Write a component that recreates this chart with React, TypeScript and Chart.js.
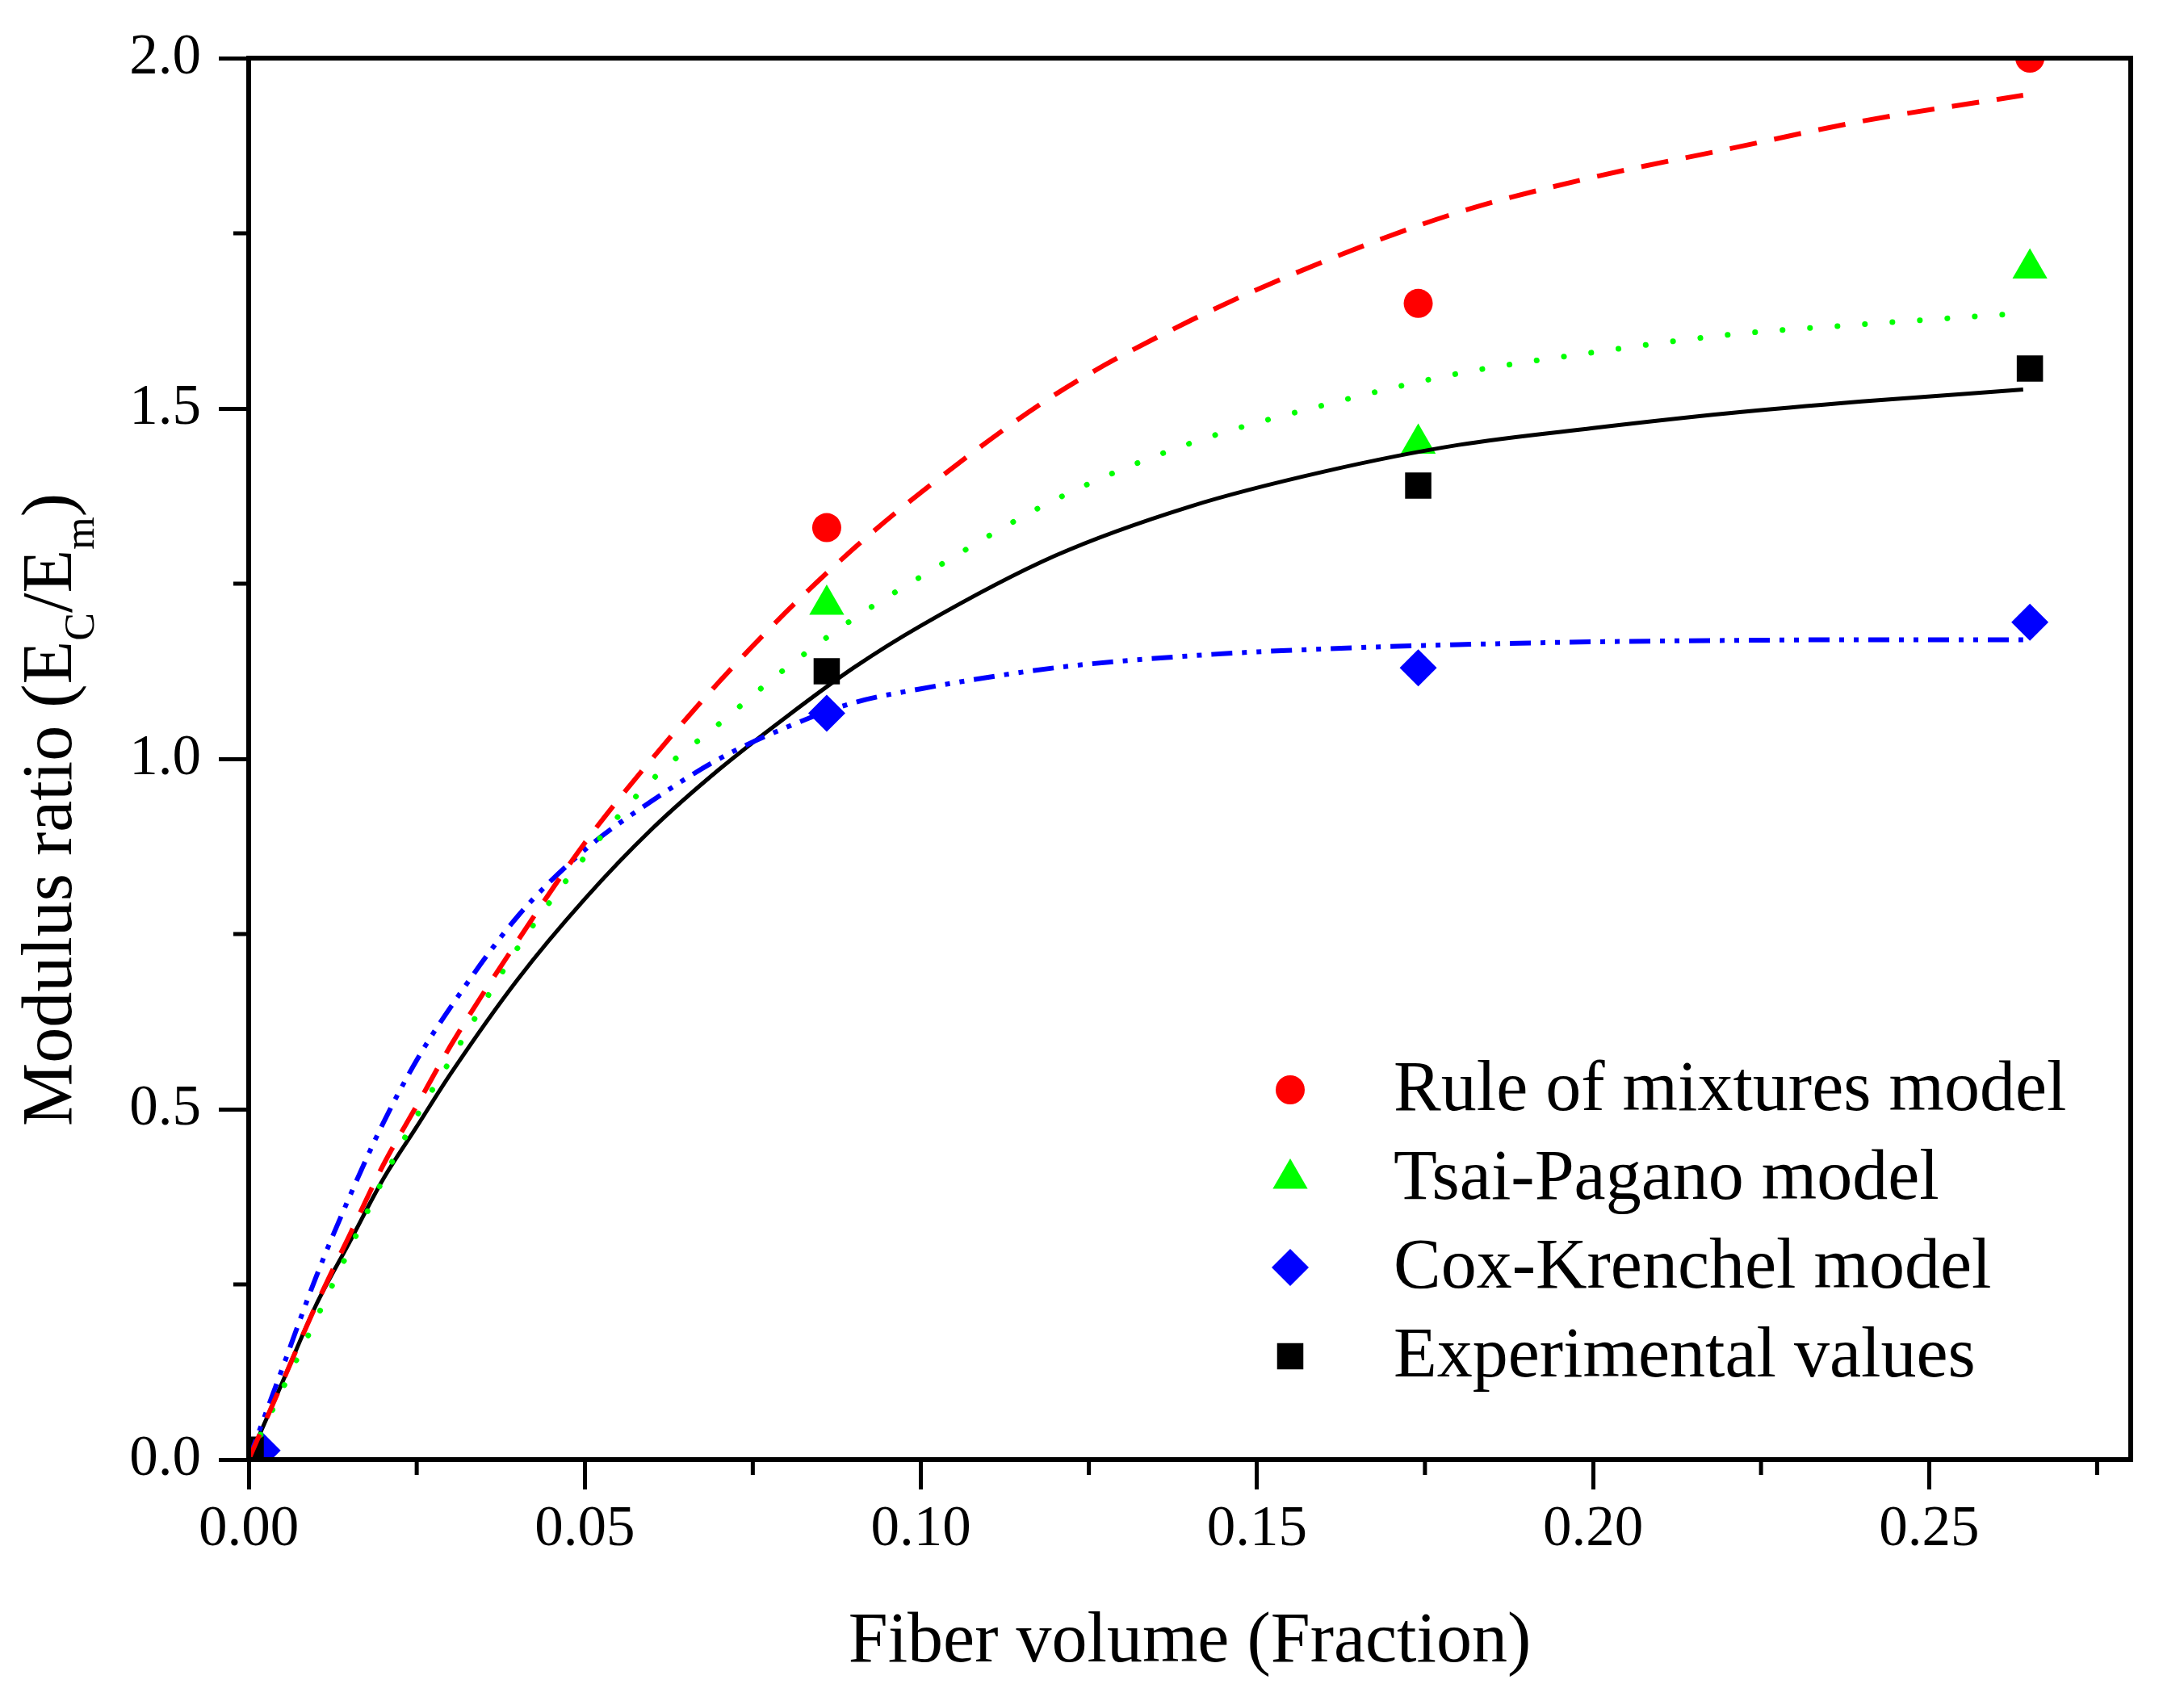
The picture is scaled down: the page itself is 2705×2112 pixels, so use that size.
import { useEffect, useRef } from "react"
import { Chart, registerables } from "chart.js"
import type { Plugin } from "chart.js"
import { drawPoint } from "chart.js/helpers"

Chart.register(...registerables)

// measured points (fiber volume fraction)
const sampleFraction = [0.086, 0.174, 0.265]
const coxFraction = [0.002, 0.086, 0.174, 0.265]
const experimentalFraction = [0.0003, 0.086, 0.174, 0.265]

const ruleOfMixtures = [1.33, 1.65, 2.0]
const tsaiPagano = [1.22, 1.45, 1.7]
const coxKrenchel = [0.013, 1.065, 1.13, 1.195]
const experimental = [0.014, 1.125, 1.39, 1.557]

// fitted curves
const fitFraction = [
  0, 0.005, 0.01, 0.015, 0.02, 0.025, 0.03, 0.04, 0.05, 0.06, 0.07, 0.08, 0.09, 0.1, 0.12, 0.14,
  0.16, 0.18, 0.2, 0.22, 0.24, 0.264,
]
const ruleFit = [
  0, 0.11, 0.22, 0.32, 0.42, 0.505, 0.59, 0.74, 0.88, 1.0, 1.11, 1.21, 1.3, 1.38, 1.52, 1.625,
  1.71, 1.78, 1.83, 1.87, 1.91, 1.947,
]
const tsaiFit = [
  0, 0.1, 0.2, 0.3, 0.4, 0.49, 0.57, 0.73, 0.86, 0.97, 1.05, 1.13, 1.2, 1.26, 1.37, 1.45, 1.505,
  1.55, 1.58, 1.605, 1.62, 1.636,
]
const coxFit = [
  0, 0.13, 0.26, 0.375, 0.48, 0.57, 0.645, 0.775, 0.87, 0.94, 1.0, 1.045, 1.08, 1.1, 1.13, 1.147,
  1.157, 1.163, 1.167, 1.169, 1.17, 1.17,
]
const experimentalFit = [
  0, 0.11, 0.22, 0.31, 0.4, 0.475, 0.55, 0.685, 0.8, 0.9, 0.985, 1.06, 1.13, 1.19, 1.29, 1.36,
  1.41, 1.448, 1.472, 1.493, 1.51, 1.527,
]

const seriesLabels = [
  "Rule of mixtures model",
  "Tsai-Pagano model",
  "Cox-Krenchel model",
  "Experimental values",
]

const xMinorTicks = [0.025, 0.075, 0.125, 0.175, 0.225, 0.275]
const yMinorTicks = [0.25, 0.75, 1.25, 1.75]

const FONT = "'Liberation Serif', 'Times New Roman', serif"

const toPoints = (xs: number[], ys: number[]) => ys.map((y, i) => ({ x: xs[i], y }))

// plot frame + short minor ticks
const framePlugin: Plugin = {
  id: "frame",
  afterDraw(chart) {
    const { ctx, chartArea } = chart
    const xs = chart.scales.x
    const ys = chart.scales.y
    ctx.save()
    ctx.strokeStyle = "#000"
    ctx.lineWidth = 5
    ctx.beginPath()
    xMinorTicks.forEach((v) => {
      const px = xs.getPixelForValue(v)
      ctx.moveTo(px, chartArea.bottom)
      ctx.lineTo(px, chartArea.bottom + 19)
    })
    yMinorTicks.forEach((v) => {
      const py = ys.getPixelForValue(v)
      ctx.moveTo(chartArea.left, py)
      ctx.lineTo(chartArea.left - 19, py)
    })
    ctx.stroke()
    ctx.lineWidth = 6
    ctx.strokeRect(
      chartArea.left,
      chartArea.top,
      chartArea.right - chartArea.left,
      chartArea.bottom - chartArea.top
    )
    ctx.restore()
  },
}

// y title with subscripts
const yTitlePlugin: Plugin = {
  id: "yTitle",
  afterDraw(chart) {
    const { ctx, chartArea } = chart
    const parts = [
      { t: "Modulus ratio (E", sub: false },
      { t: "C", sub: true },
      { t: "/E", sub: false },
      { t: "m", sub: true },
      { t: ")", sub: false },
    ]
    const main = `88px ${FONT}`
    const small = `52px ${FONT}`
    ctx.save()
    ctx.fillStyle = "#000"
    ctx.textBaseline = "alphabetic"
    ctx.textAlign = "left"
    let total = 0
    parts.forEach((p) => {
      ctx.font = p.sub ? small : main
      total += ctx.measureText(p.t).width
    })
    ctx.translate(88, (chartArea.top + chartArea.bottom) / 2 + 63)
    ctx.rotate(-Math.PI / 2)
    let x = -total / 2
    parts.forEach((p) => {
      ctx.font = p.sub ? small : main
      ctx.fillText(p.t, x, p.sub ? 28 : 0)
      x += ctx.measureText(p.t).width
    })
    ctx.restore()
  },
}

// legend in the lower right of the plot
const legendPlugin: Plugin = {
  id: "modelLegend",
  afterDraw(chart) {
    const { ctx } = chart
    ctx.save()
    ctx.font = `88px ${FONT}`
    ctx.textBaseline = "middle"
    ctx.textAlign = "left"
    seriesLabels.forEach((label, i) => {
      const ds: any = chart.data.datasets.find((d) => d.label === label)
      if (!ds) return
      const y = 1350 + i * 110
      ctx.fillStyle = ds.backgroundColor
      drawPoint(ctx, { pointStyle: ds.pointStyle, radius: ds.pointRadius, rotation: 0, borderWidth: 0 }, 1598, y)
      ctx.fillStyle = "#000"
      ctx.fillText(label, 1726, y + 2)
    })
    ctx.restore()
  },
}

export default function App() {
  const chartRef = useRef<HTMLCanvasElement>(null)
  const chartInstance = useRef<Chart | null>(null)

  useEffect(() => {
    if (!chartRef.current) return
    if (chartInstance.current) chartInstance.current.destroy()
    const ctx = chartRef.current.getContext("2d")
    if (!ctx) return

    Chart.defaults.font.family = FONT
    Chart.defaults.color = "#000"

    const marker = (label: string, xs: number[], ys: number[], color: string, style: string, r: number, order: number) => ({
      label,
      data: toPoints(xs, ys),
      showLine: false,
      pointStyle: style,
      pointRadius: r,
      pointBorderWidth: 0,
      backgroundColor: color,
      borderColor: color,
      clip: 0,
      order,
    })
    // fit lines sit on top of the markers (order 0)
    const curve = (ys: number[], color: string, dash: number[], width: number, cap: CanvasLineCap) => ({
      label: "",
      data: toPoints(fitFraction, ys),
      showLine: true,
      pointRadius: 0,
      borderColor: color,
      borderWidth: width,
      borderDash: dash,
      borderCapStyle: cap,
      cubicInterpolationMode: "monotone",
      clip: 0,
      order: 0,
    })

    chartInstance.current = new Chart(ctx, {
      type: "scatter",
      data: {
        datasets: [
          marker(seriesLabels[0], sampleFraction, ruleOfMixtures, "#ff0000", "circle", 18, 4),
          marker(seriesLabels[1], sampleFraction, tsaiPagano, "#00ff00", "triangle", 25, 3),
          marker(seriesLabels[2], coxFraction, coxKrenchel, "#0000ff", "rectRot", 23, 2),
          marker(seriesLabels[3], experimentalFraction, experimental, "#000000", "rect", 23, 1),
          curve(ruleFit, "#ff0000", [34, 22], 6, "butt"),
          curve(tsaiFit, "#00ff00", [0.1, 34], 7, "round"),
          curve(coxFit, "#0000ff", [26, 12, 6, 12, 6, 12], 6, "butt"),
          curve(experimentalFit, "#000000", [], 5, "butt"),
        ] as any,
      },
      options: {
        animation: false,
        responsive: true,
        maintainAspectRatio: false,
        devicePixelRatio: 1,
        layout: { padding: { top: 72, right: 66, left: 0, bottom: 0 } },
        plugins: {
          legend: { display: false },
          tooltip: { enabled: false },
        },
        scales: {
          x: {
            type: "linear",
            min: 0,
            max: 0.28,
            afterFit: (scale) => {
              scale.height = 304
            },
            border: { display: false },
            grid: {
              drawOnChartArea: false,
              drawTicks: true,
              tickLength: 37,
              tickWidth: 5,
              color: "#000",
            },
            ticks: {
              stepSize: 0.05,
              includeBounds: false,
              padding: 8,
              maxRotation: 0,
              autoSkip: false,
              font: { size: 71 },
              color: "#000",
              callback: (v) => Number(v).toFixed(2),
            },
            title: {
              display: true,
              text: "Fiber volume (Fraction)",
              font: { size: 88 },
              color: "#000",
              padding: { top: 0, bottom: 24 },
            },
          },
          y: {
            type: "linear",
            min: 0,
            max: 2,
            afterFit: (scale) => {
              scale.width = 308
            },
            border: { display: false },
            grid: {
              drawOnChartArea: false,
              drawTicks: true,
              tickLength: 37,
              tickWidth: 5,
              color: "#000",
            },
            ticks: {
              stepSize: 0.5,
              padding: 22,
              font: { size: 71 },
              color: "#000",
              callback: (v) => Number(v).toFixed(1),
            },
          },
        },
      },
      plugins: [framePlugin, yTitlePlugin, legendPlugin],
    })

    return () => {
      if (chartInstance.current) {
        chartInstance.current.destroy()
        chartInstance.current = null
      }
    }
  }, [])

  return (
    <div style={{ position: "absolute", left: 0, top: 0, width: 2705, height: 2112, background: "#fff" }}>
      <canvas ref={chartRef} />
    </div>
  )
}
